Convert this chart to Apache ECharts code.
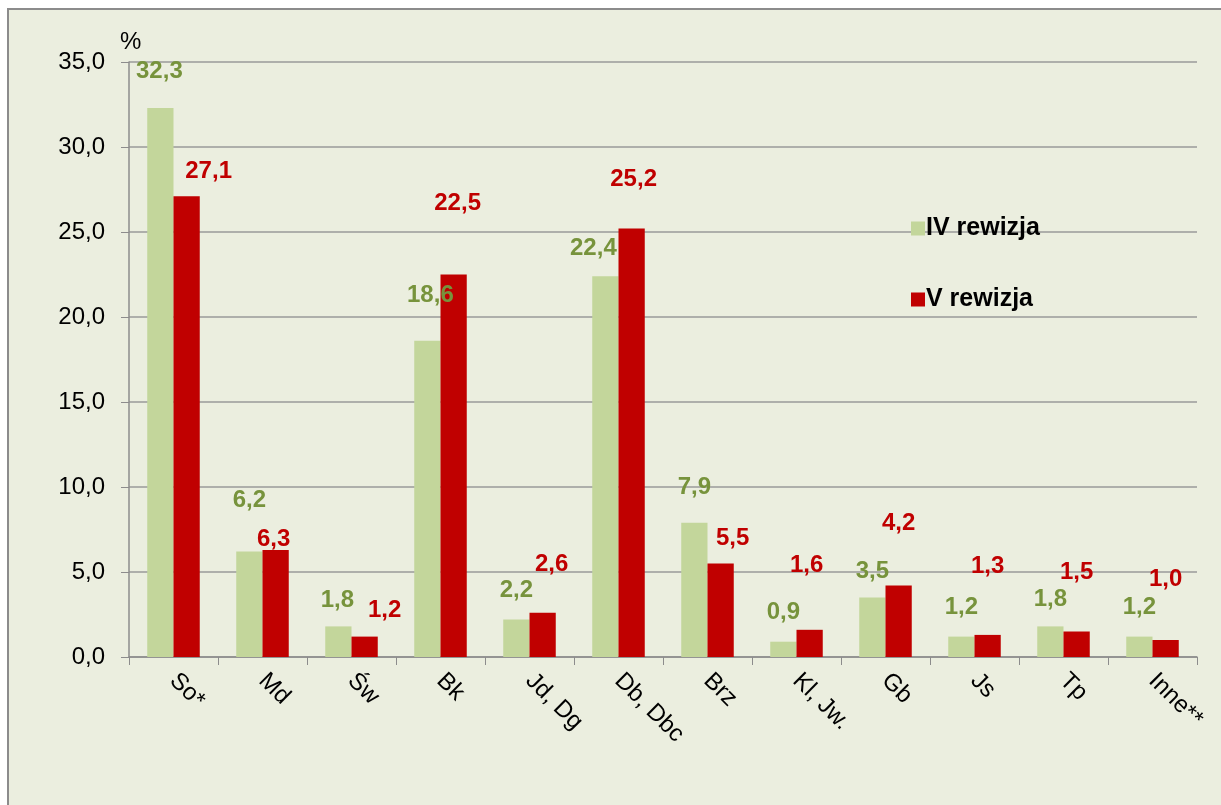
<!DOCTYPE html>
<html>
<head>
<meta charset="utf-8">
<script src="https://cdn.jsdelivr.net/npm/echarts@6/dist/echarts.min.js"></script>
<style>
  html, body { margin: 0; padding: 0; background: #ffffff; }
  #chart { width: 1221px; height: 805px; }
</style>
</head>
<body>
<div id="chart"></div>
<script>
// kategorie (gatunki)
const categories = ["So*", "Md", "Św", "Bk", "Jd, Dg", "Db, Dbc", "Brz", "Kl, Jw.", "Gb", "Js", "Tp", "Inne**"];
// udział w %
const rewizjaIV = [32.3, 6.2, 1.8, 18.6, 2.2, 22.4, 7.9, 0.9, 3.5, 1.2, 1.8, 1.2];
const rewizjaV = [27.1, 6.3, 1.2, 22.5, 2.6, 25.2, 5.5, 1.6, 4.2, 1.3, 1.5, 1.0];
const seriesNames = ["IV rewizja", "V rewizja"];

// przesunięcia etykiet (ręcznie poprzesuwane jak w Excelu)
const shiftIV = [[-1, -20], [0, -34], [-1, -9], [3, -28], [0, -12], [-12, -11], [0, -18], [0, -12], [0, -9], [0, -12], [0, -10], [0, -12]];
const shiftV = [[22, -8], [-2, 6], [20, -9], [4, -54], [9, -31], [2, -32], [12, -8], [-3, -47], [0, -45], [0, -52], [0, -42], [0, -44]];

const fmt = v => v.toFixed(1).replace(".", ",");

function makeData(values, shifts) {
  return values.map((v, i) => ({
    value: v,
    label: { offset: shifts[i] }
  }));
}

const chart = echarts.init(document.getElementById("chart"));
chart.setOption({
  backgroundColor: "#ffffff",
  textStyle: { fontFamily: "Liberation Sans, Arial, sans-serif" },
  animation: false,
  graphic: [
    {
      type: "rect",
      z: -10,
      shape: { x: 8, y: 9, width: 1240, height: 820 },
      style: { fill: "#EBEEDF", stroke: "#8C8C8C", lineWidth: 2 }
    },
    {
      type: "text",
      left: 120,
      top: 30,
      style: { text: "%", fontSize: 24, fill: "#000", fontFamily: "Liberation Sans, Arial, sans-serif" }
    }
  ],
  legend: {
    orient: "vertical",
    left: 906,
    top: 211,
    itemWidth: 14,
    itemHeight: 14,
    itemGap: 46,
    icon: "rect",
    textStyle: { fontSize: 25, fontWeight: "bold", color: "#000", padding: [0, 0, 0, -4] },
    data: seriesNames
  },
  grid: {
    left: 129,
    right: 24,
    top: 62,
    bottom: 148,
    containLabel: false
  },
  xAxis: {
    type: "category",
    data: categories,
    axisLine: { lineStyle: { color: "#8C8C8C", width: 1.5 } },
    axisTick: { show: true, length: 8, alignWithLabel: false, lineStyle: { color: "#8C8C8C" } },
    axisLabel: { rotate: -45, fontSize: 24, color: "#000", margin: 20, interval: 0 }
  },
  yAxis: {
    type: "value",
    min: 0,
    max: 35,
    interval: 5,
    axisLine: { show: true, lineStyle: { color: "#8C8C8C", width: 1.5 } },
    axisTick: { show: true, length: 8, lineStyle: { color: "#8C8C8C" } },
    axisLabel: { fontSize: 24, color: "#000", margin: 24, formatter: v => fmt(v) },
    splitLine: { lineStyle: { color: "#9A9A9A", width: 1.5 } }
  },
  series: [
    {
      name: seriesNames[0],
      type: "bar",
      barGap: "0%",
      barCategoryGap: "41%",
      itemStyle: { color: "#C3D69B" },
      label: {
        show: true,
        position: "top",
        fontSize: 24,
        fontWeight: "bold",
        color: "#77933C",
        formatter: p => fmt(p.value)
      },
      data: makeData(rewizjaIV, shiftIV)
    },
    {
      name: seriesNames[1],
      type: "bar",
      itemStyle: { color: "#C00000" },
      label: {
        show: true,
        position: "top",
        fontSize: 24,
        fontWeight: "bold",
        color: "#C00000",
        formatter: p => fmt(p.value)
      },
      data: makeData(rewizjaV, shiftV)
    }
  ]
});
</script>
</body>
</html>
